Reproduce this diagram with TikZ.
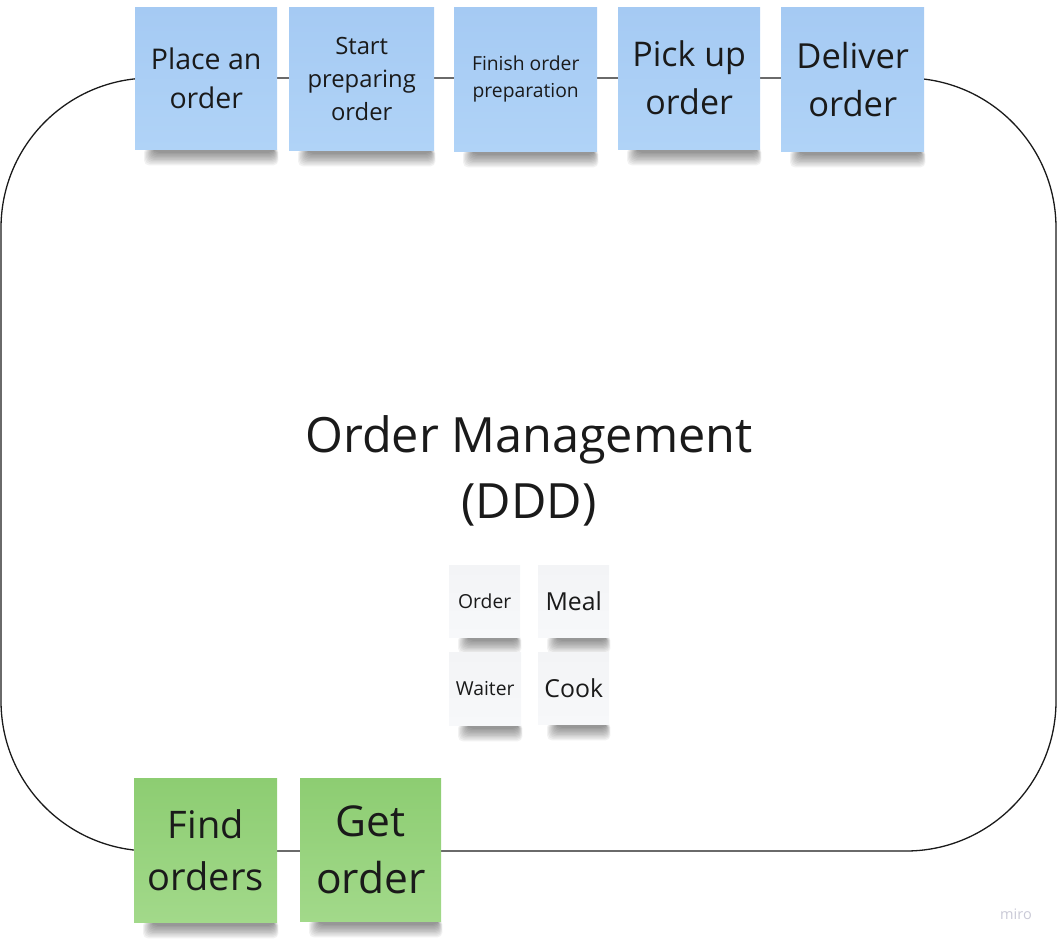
\documentclass[tikz,border=0pt]{standalone}
\usepackage{fontspec}
\setmainfont{Open Sans}
\usetikzlibrary{backgrounds,calc}
\definecolor{txt}{HTML}{1A1A1A}
\definecolor{blueT}{HTML}{A5CAF3}
\definecolor{blueB}{HTML}{B0D3F7}
\definecolor{greenT}{HTML}{8DCD72}
\definecolor{greenB}{HTML}{A2D98A}
\definecolor{greyT}{HTML}{F3F4F6}
\definecolor{greyB}{HTML}{F7F8FA}
\definecolor{mirogrey}{HTML}{C9C9D6}
\tikzset{
  sticky/.style={inner sep=0pt, align=center, text=txt, anchor=north west},
  bluenote/.style={sticky, top color=blueT, bottom color=blueB},
  greennote/.style={sticky, top color=greenT, bottom color=greenB},
  greynote/.style={sticky, top color=greyT, bottom color=greyB},
  boundary/.style={draw=txt, line width=1.3pt, rounded corners=150pt},
}
\newcommand{\noteshadow}[1]{%
  \foreach \k in {0,...,9}{%
    \fill[black, opacity=0.05, rounded corners=5pt]
      ($(#1.south west)+(9+1.1*\k,-2)$) rectangle ($(#1.south east)+(1-0.5*\k,16-1.4*\k)$);
  }%
}
\begin{document}
\begin{tikzpicture}[x=1pt,y=-1pt]
\useasboundingbox (0,0) rectangle (1057,945);
% blue stickies
\node[bluenote, minimum width=142pt, minimum height=142pt, font=\fontsize{28.5}{39}\selectfont] (place) at (135,7) {Place an\\order};
\node[bluenote, minimum width=145pt, minimum height=143pt, font=\fontsize{23.8}{33}\selectfont] (start) at (289,7) {Start\\preparing\\order};
\node[bluenote, minimum width=143pt, minimum height=144pt, font=\fontsize{19.3}{27}\selectfont] (finish) at (454,7) {Finish order\\preparation};
\node[bluenote, minimum width=142pt, minimum height=142pt, font=\fontsize{34}{48}\selectfont] (pick) at (618,7) {Pick up\\order};
\node[bluenote, minimum width=143pt, minimum height=144pt, font=\fontsize{34.5}{48}\selectfont] (deliver) at (781,7) {Deliver\\order};
% grey stickies
\node[greynote, minimum width=71pt, minimum height=72pt, font=\fontsize{19.3}{26}\selectfont] (order) at (449,565) {Order};
\node[greynote, minimum width=71pt, minimum height=72pt, font=\fontsize{24.8}{33}\selectfont] (meal) at (538,565) {Meal};
\node[greynote, minimum width=72pt, minimum height=73pt, font=\fontsize{19.3}{26}\selectfont] (waiter) at (449,652) {Waiter};
\node[greynote, minimum width=71pt, minimum height=72pt, font=\fontsize{24.8}{33}\selectfont] (cook) at (538,652) {Cook};
% green stickies
\node[greennote, minimum width=143pt, minimum height=144pt, font=\fontsize{38}{52}\selectfont] (find) at (134,778) {Find\\orders};
\node[greennote, minimum width=141pt, minimum height=143pt, font=\fontsize{42.5}{57}\selectfont] (get) at (300,778) {Get\\order};
% title
\node[text=txt, align=center, font=\fontsize{48.6}{66}\selectfont] (title) at (529,471) {Order Management\\(DDD)};
% miro mark
\node[text=mirogrey, font=\fontsize{14.5}{16}\selectfont] (miro) at (1016,914) {miro};
\begin{scope}[on background layer]
  \draw[boundary] (1,78) rectangle (1056,851);
  \foreach \n in {place,start,finish,pick,deliver,order,meal,waiter,cook,find,get}{\noteshadow{\n}}
\end{scope}
\end{tikzpicture}
\end{document}
